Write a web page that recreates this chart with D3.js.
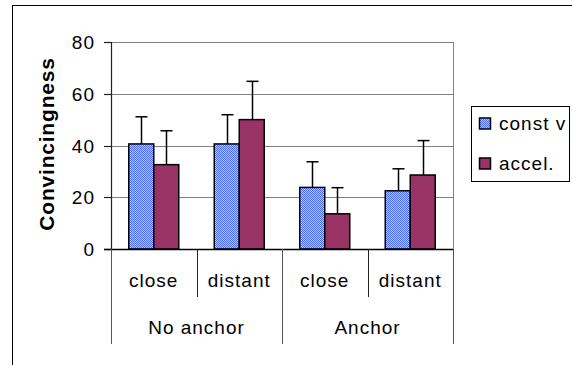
<!DOCTYPE html>
<html lang="en">
<head>
  <meta charset="UTF-8">
  <title>Convincingness</title>
  <style>
    body, html { margin: 0; padding: 0; background: #fff; }
    svg { display: block; font-family: "Liberation Sans", Arial, sans-serif; }
    .lbl { font-size: 19px; letter-spacing: 1px; fill: #000; }
  </style>
</head>
<body>
  <svg id="svg" width="572" height="365"></svg>

  <script src="https://d3js.org/d3.v7.min.js"></script>
  <script>
    // values
    const groups = ['No anchor', 'Anchor']
    const distances = ['close', 'distant']
    const seriesNames = ['const v', 'accel.']
    const constV = [40.6, 40.6, 23.8, 22.5]
    const constVErr = [10.5, 11.3, 9.9, 8.5]
    const accel = [32.6, 50.0, 13.6, 28.6]
    const accelErr = [13.1, 14.8, 10.1, 13.3]
    const yTicks = [0, 20, 40, 60, 80]

    const svg = d3.select('#svg')

    // blue dither fill like the old excel pattern
    const defs = svg.append('defs')
    const pat = defs.append('pattern')
      .attr('id', 'blueDots')
      .attr('width', 2).attr('height', 2)
      .attr('patternUnits', 'userSpaceOnUse')
    pat.append('rect').attr('width', 2).attr('height', 2).attr('fill', '#b3c4ff')
    pat.append('rect').attr('width', 1).attr('height', 1).attr('fill', '#4d6dff')
    pat.append('rect').attr('x', 1).attr('y', 1).attr('width', 1).attr('height', 1).attr('fill', '#4d6dff')

    // outer chart frame (right and bottom edges fall outside the picture)
    svg.append('rect')
      .attr('x', 12.5).attr('y', 5.5)
      .attr('width', 600).attr('height', 400)
      .attr('fill', 'none').attr('stroke', '#000')

    const plotL = 111, plotR = 453, plotT = 42, plotB = 249

    const cats = []
    groups.forEach(g => distances.forEach(d => cats.push(g + '|' + d)))

    const x0 = d3.scaleBand().domain(cats).range([plotL, plotR])
    const x1 = d3.scaleBand().domain(seriesNames).range([0, x0.bandwidth()]).paddingOuter(0.71)
    const xg = d3.scaleBand().domain(groups).range([plotL, plotR])
    const y = d3.scaleLinear().domain([0, 80]).range([plotB, plotT])

    // gridlines
    svg.append('g').selectAll('line')
      .data(yTicks.filter(t => t > 0))
      .join('line')
      .attr('x1', plotL).attr('x2', plotR)
      .attr('y1', d => Math.round(y(d)) + 0.5).attr('y2', d => Math.round(y(d)) + 0.5)
      .attr('stroke', '#808080')

    // plot area right edge
    svg.append('line')
      .attr('x1', plotR + 0.5).attr('x2', plotR + 0.5)
      .attr('y1', plotT).attr('y2', plotB)
      .attr('stroke', '#808080')

    // bars
    const series = [
      { name: seriesNames[0], vals: constV, err: constVErr, fill: 'url(#blueDots)' },
      { name: seriesNames[1], vals: accel, err: accelErr, fill: '#993366' }
    ]

    series.forEach(s => {
      const g = svg.append('g')
      cats.forEach((c, i) => {
        const bx = x0(c) + x1(s.name)
        const bw = x1.bandwidth()
        g.append('rect')
          .attr('x', bx).attr('y', y(s.vals[i]))
          .attr('width', bw).attr('height', y(0) - y(s.vals[i]))
          .attr('fill', s.fill)
          .attr('stroke', '#000').attr('stroke-width', 1.5)
        // error bar
        const cx = Math.round(bx + bw / 2) + 0.5
        g.append('line')
          .attr('x1', cx).attr('x2', cx)
          .attr('y1', y(s.vals[i])).attr('y2', y(s.vals[i] + s.err[i]))
          .attr('stroke', '#000').attr('stroke-width', 1.5)
        g.append('line')
          .attr('x1', cx - 6).attr('x2', cx + 6)
          .attr('y1', y(s.vals[i] + s.err[i])).attr('y2', y(s.vals[i] + s.err[i]))
          .attr('stroke', '#000').attr('stroke-width', 1.5)
      })
    })

    // y axis
    svg.append('line')
      .attr('x1', plotL + 0.5).attr('x2', plotL + 0.5)
      .attr('y1', plotT).attr('y2', plotB)
      .attr('stroke', '#222').attr('stroke-width', 1.2)
    svg.append('g').selectAll('line')
      .data(yTicks)
      .join('line')
      .attr('x1', plotL - 7).attr('x2', plotL)
      .attr('y1', d => Math.round(y(d)) + 0.5).attr('y2', d => Math.round(y(d)) + 0.5)
      .attr('stroke', '#222').attr('stroke-width', 1.2)
    svg.append('g').selectAll('text')
      .data(yTicks)
      .join('text')
      .attr('class', 'lbl')
      .attr('x', 95).attr('y', d => y(d) + 7)
      .attr('text-anchor', 'end')
      .text(d => d)

    // zero line
    svg.append('line')
      .attr('x1', plotL - 7).attr('x2', plotR)
      .attr('y1', plotB + 0.5).attr('y2', plotB + 0.5)
      .attr('stroke', '#000').attr('stroke-width', 1.5)

    // category axis: separators
    const innerSeps = groups.map(g => x0(g + '|' + distances[1]))
    svg.append('g').selectAll('line')
      .data(innerSeps)
      .join('line')
      .attr('x1', d => Math.round(d) + 0.5).attr('x2', d => Math.round(d) + 0.5)
      .attr('y1', plotB).attr('y2', 297)
      .attr('stroke', '#222')
    const outerSeps = groups.map(g => xg(g)).concat([plotR])
    svg.append('g').selectAll('line')
      .data(outerSeps)
      .join('line')
      .attr('x1', d => Math.round(d) + 0.5).attr('x2', d => Math.round(d) + 0.5)
      .attr('y1', plotB).attr('y2', 344)
      .attr('stroke', '#555')

    svg.append('g').selectAll('text')
      .data(cats)
      .join('text')
      .attr('class', 'lbl')
      .attr('x', d => x0(d) + x0.bandwidth() / 2)
      .attr('y', 287)
      .attr('text-anchor', 'middle')
      .text(d => d.split('|')[1])

    svg.append('g').selectAll('text')
      .data(groups)
      .join('text')
      .attr('class', 'lbl')
      .attr('x', d => xg(d) + xg.bandwidth() / 2)
      .attr('y', 334)
      .attr('text-anchor', 'middle')
      .text(d => d)

    // y axis title
    svg.append('text')
      .attr('transform', 'translate(54,144) rotate(-90)')
      .attr('text-anchor', 'middle')
      .attr('font-size', 21).attr('font-weight', 'bold')
      .attr('letter-spacing', 0.8)
      .text('Convincingness')

    // legend
    const leg = svg.append('g')
    leg.append('rect')
      .attr('x', 471.5).attr('y', 106.5)
      .attr('width', 98).attr('height', 75)
      .attr('fill', '#fff').attr('stroke', '#000')
    series.forEach((s, i) => {
      const ly = 118 + i * 40
      leg.append('rect')
        .attr('x', 479.5).attr('y', ly)
        .attr('width', 11).attr('height', 11)
        .attr('fill', s.fill)
        .attr('stroke', '#000').attr('stroke-width', 1.5)
      leg.append('text')
        .attr('class', 'lbl')
        .attr('x', 499).attr('y', ly + 12)
        .text(s.name)
    })
  </script>
</body>
</html>
